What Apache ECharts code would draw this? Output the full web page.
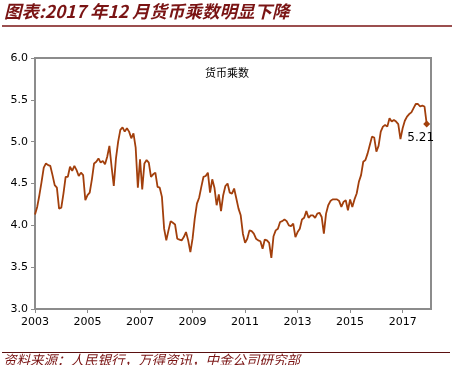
<!DOCTYPE html>
<html>
<head>
<meta charset="utf-8">
<script src="https://cdn.jsdelivr.net/npm/echarts@6/dist/echarts.min.js"></script>
<style>
  html, body { margin: 0; padding: 0; background: #fff; }
  #main { width: 454px; height: 365px; }
</style>
</head>
<body>
<div id="main"></div>
<script>
// 货币乘数，月度，2003-01 起
var startYear = 2003;
var multiplier = [
  4.13, 4.22, 4.36, 4.52, 4.69, 4.74, 4.72, 4.71, 4.60, 4.48, 4.45, 4.20, // 2003
  4.21, 4.38, 4.58, 4.58, 4.70, 4.65, 4.71, 4.66, 4.59, 4.63, 4.60, 4.30, // 2004
  4.36, 4.39, 4.55, 4.74, 4.76, 4.80, 4.75, 4.77, 4.73, 4.82, 4.95, 4.70, // 2005
  4.47, 4.80, 5.00, 5.14, 5.17, 5.12, 5.16, 5.12, 5.04, 5.10, 4.93, 4.45, // 2006
  4.79, 4.43, 4.74, 4.78, 4.75, 4.58, 4.61, 4.63, 4.46, 4.45, 4.34, 3.96, // 2007
  3.82, 3.94, 4.05, 4.03, 4.01, 3.84, 3.83, 3.82, 3.86, 3.92, 3.82, 3.68, // 2008
  3.84, 4.08, 4.26, 4.33, 4.46, 4.58, 4.59, 4.63, 4.39, 4.55, 4.45, 4.24, // 2009
  4.37, 4.17, 4.36, 4.47, 4.50, 4.39, 4.38, 4.44, 4.32, 4.20, 4.12, 3.90, // 2010
  3.79, 3.84, 3.94, 3.93, 3.90, 3.84, 3.82, 3.81, 3.72, 3.83, 3.82, 3.79, // 2011
  3.61, 3.87, 3.94, 3.96, 4.04, 4.05, 4.07, 4.05, 4.00, 3.99, 4.02, 3.86, // 2012
  3.92, 3.96, 4.07, 4.09, 4.17, 4.09, 4.12, 4.12, 4.09, 4.14, 4.15, 4.10, // 2013
  3.90, 4.14, 4.24, 4.29, 4.31, 4.31, 4.31, 4.29, 4.22, 4.28, 4.30, 4.18, // 2014
  4.31, 4.22, 4.31, 4.38, 4.52, 4.60, 4.76, 4.78, 4.86, 4.96, 5.06, 5.05, // 2015
  4.88, 4.95, 5.12, 5.18, 5.20, 5.18, 5.28, 5.24, 5.26, 5.24, 5.21, 5.03, // 2016
  5.16, 5.25, 5.30, 5.33, 5.35, 5.40, 5.45, 5.45, 5.42, 5.43, 5.42, 5.21  // 2017
];
var xTickYears = [2003, 2005, 2007, 2009, 2011, 2013, 2015, 2017];
var yTicks = [3.0, 3.5, 4.0, 4.5, 5.0, 5.5, 6.0];

var titleText = '图表:2017 年12 月货币乘数明显下降';
var sourceText = '资料来源：人民银行，万得资讯，中金公司研究部';
var seriesName = '货币乘数';

var lineColor = '#A23F0C';
var darkRed = '#7A1414';

var seriesData = multiplier.map(function(v, i) {
  var item = { value: [startYear + i / 12, v] };
  if (i === multiplier.length - 1) {
    item.symbol = 'diamond';
    item.symbolSize = 7;
    item.label = {
      show: true,
      position: 'bottom',
      offset: [-6, -1],
      color: '#000',
      fontSize: 12,
      fontFamily: 'DejaVu Sans',
      formatter: function(p) { return p.value[1].toFixed(2); }
    };
  }
  return item;
});

var myChart = echarts.init(document.getElementById('main'), null, { renderer: 'canvas' });

var option = {
  animation: false,
  backgroundColor: '#fff',
  textStyle: { fontFamily: 'DejaVu Sans' },
  legend: {
    data: [seriesName],
    icon: 'none',
    itemWidth: 0,
    left: 195,
    top: 61,
    itemGap: 0,
    textStyle: { color: '#000', fontSize: 11, fontFamily: 'Noto Sans CJK SC' }
  },
  grid: {
    left: 35,
    right: 23,
    top: 58,
    bottom: 56,
    show: true,
    borderColor: '#8c8c8c',
    borderWidth: 2,
    containLabel: false
  },
  xAxis: {
    type: 'value',
    min: 2003,
    max: 2018.08,
    splitLine: { show: false },
    axisLine: { lineStyle: { color: '#8c8c8c', width: 2 } },
    axisTick: {
      show: true,
      length: 4,
      customValues: xTickYears,
      lineStyle: { color: '#8c8c8c', width: 1 }
    },
    axisLabel: {
      customValues: xTickYears,
      color: '#000',
      fontSize: 11,
      margin: 8,
      formatter: function(v) { return String(Math.round(v)); }
    }
  },
  yAxis: {
    type: 'value',
    min: 3,
    max: 6,
    interval: 0.5,
    splitLine: { show: false },
    axisLine: { show: true, lineStyle: { color: '#8c8c8c', width: 2 } },
    axisTick: { show: true, length: 4, lineStyle: { color: '#8c8c8c' } },
    axisLabel: {
      customValues: yTicks,
      color: '#000',
      fontSize: 11,
      margin: 7,
      formatter: function(v) { return v.toFixed(1); }
    }
  },
  series: [{
    name: seriesName,
    type: 'line',
    data: seriesData,
    showSymbol: true,
    symbol: 'none',
    lineStyle: { color: lineColor, width: 1.8 },
    itemStyle: { color: lineColor }
  }],
  graphic: [
    {
      type: 'text',
      left: 4,
      top: 3,
      style: {
        text: titleText,
        fill: darkRed,
        font: 'italic bold 17.5px "Noto Sans CJK SC"'
      }
    },
    {
      type: 'line',
      shape: { x1: 2, y1: 26, x2: 452, y2: 26 },
      style: { stroke: darkRed, lineWidth: 1.5 }
    },
    {
      type: 'line',
      shape: { x1: 2, y1: 352.5, x2: 450, y2: 352.5 },
      style: { stroke: '#5A1010', lineWidth: 1 }
    },
    {
      type: 'text',
      left: 3,
      top: 353,
      style: {
        text: sourceText,
        fill: darkRed,
        font: 'italic 13.5px "Noto Sans CJK SC"'
      }
    }
  ]
};

myChart.setOption(option);
</script>
</body>
</html>
